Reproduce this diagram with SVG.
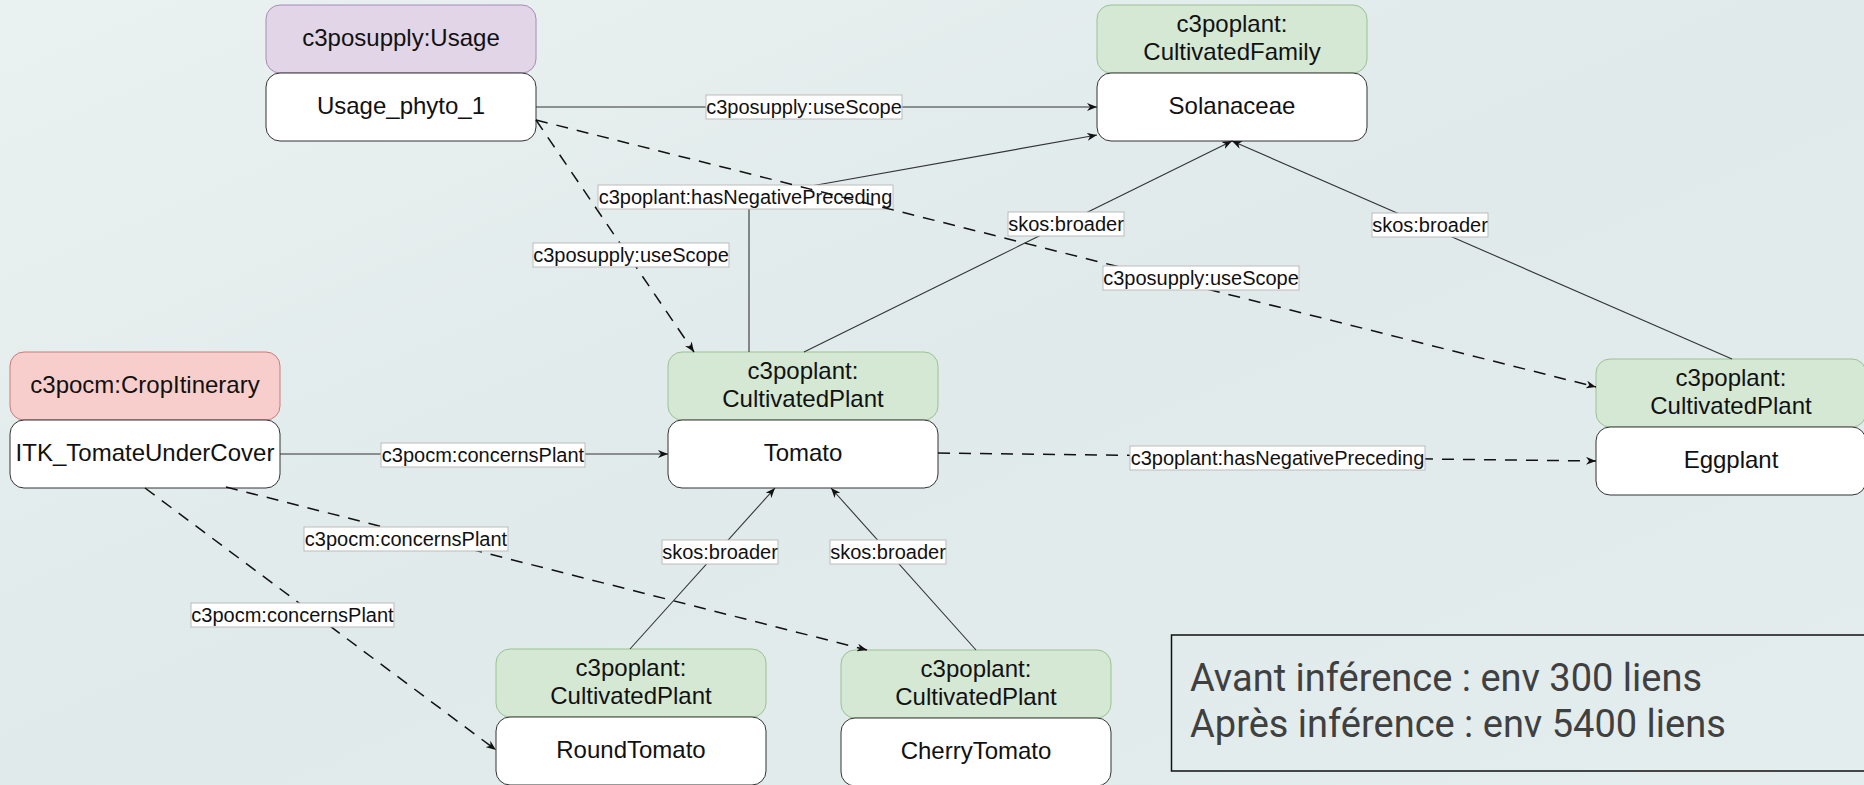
<svg xmlns="http://www.w3.org/2000/svg" width="1864" height="785" viewBox="0 0 1864 785">
<defs>
<linearGradient id="bg" x1="0" y1="0" x2="1" y2="1">
<stop offset="0" stop-color="#eaf1f1"/>
<stop offset="0.5" stop-color="#e0eaea"/>
<stop offset="1" stop-color="#e4eded"/>
</linearGradient>
<marker id="arr" viewBox="0 0 10 8" refX="10" refY="4" markerWidth="10" markerHeight="8" markerUnits="userSpaceOnUse" orient="auto">
<path d="M0,0 L10,4 L0,8 L3,4 z" fill="#111"/>
</marker>
</defs>
<style>
.hp{fill:#e1d5e7;stroke:#a88bb5;stroke-width:1}
.hg{fill:#d5e8d4;stroke:#9cc094;stroke-width:1}
.hr{fill:#f8cecc;stroke:#c77c7a;stroke-width:1}
.bd{fill:#ffffff;stroke:#333333;stroke-width:1}
.nt{font-family:"Liberation Sans",Arial,sans-serif;font-size:24px;fill:#111;text-anchor:middle}
.e{fill:none;stroke:#333;stroke-width:1.1;marker-end:url(#arr)}
.ed{fill:none;stroke:#111;stroke-width:1.5;stroke-dasharray:12 9;marker-end:url(#arr)}
.lb{fill:#ffffff;stroke:#bbbbbb;stroke-width:1}
.lt{font-family:"Liberation Sans",Arial,sans-serif;font-size:20px;fill:#111;text-anchor:middle}
.info{font-family:Roboto,"Open Sans",sans-serif;font-size:38px;fill:#404040}
</style>
<rect x="0" y="0" width="1864" height="785" fill="url(#bg)"/>

<g id="node-usage">
<rect class="hp" x="266" y="5" width="270" height="68" rx="14"/>
<rect class="bd" x="266" y="73" width="270" height="68" rx="14"/>
<text class="nt" x="401" y="46">c3posupply:Usage</text>
<text class="nt" x="401" y="114">Usage_phyto_1</text>
</g>
<g id="node-solanaceae">
<rect class="hg" x="1097" y="5" width="270" height="68" rx="14"/>
<rect class="bd" x="1097" y="73" width="270" height="68" rx="14"/>
<text class="nt" x="1232" y="32">c3poplant:</text>
<text class="nt" x="1232" y="60">CultivatedFamily</text>
<text class="nt" x="1232" y="114">Solanaceae</text>
</g>
<g id="node-itk">
<rect class="hr" x="10" y="352" width="270" height="68" rx="14"/>
<rect class="bd" x="10" y="420" width="270" height="68" rx="14"/>
<text class="nt" x="145" y="393">c3pocm:CropItinerary</text>
<text class="nt" x="145" y="461">ITK_TomateUnderCover</text>
</g>
<g id="node-tomato">
<rect class="hg" x="668" y="352" width="270" height="68" rx="14"/>
<rect class="bd" x="668" y="420" width="270" height="68" rx="14"/>
<text class="nt" x="803" y="379">c3poplant:</text>
<text class="nt" x="803" y="407">CultivatedPlant</text>
<text class="nt" x="803" y="461">Tomato</text>
</g>
<g id="node-eggplant">
<rect class="hg" x="1596" y="359" width="270" height="68" rx="14"/>
<rect class="bd" x="1596" y="427" width="270" height="68" rx="14"/>
<text class="nt" x="1731" y="386">c3poplant:</text>
<text class="nt" x="1731" y="414">CultivatedPlant</text>
<text class="nt" x="1731" y="468">Eggplant</text>
</g>
<g id="node-roundtomato">
<rect class="hg" x="496" y="649" width="270" height="68" rx="14"/>
<rect class="bd" x="496" y="717" width="270" height="68" rx="14"/>
<text class="nt" x="631" y="676">c3poplant:</text>
<text class="nt" x="631" y="704">CultivatedPlant</text>
<text class="nt" x="631" y="758">RoundTomato</text>
</g>
<g id="node-cherrytomato">
<rect class="hg" x="841" y="650" width="270" height="68" rx="14"/>
<rect class="bd" x="841" y="718" width="270" height="68" rx="14"/>
<text class="nt" x="976" y="677">c3poplant:</text>
<text class="nt" x="976" y="705">CultivatedPlant</text>
<text class="nt" x="976" y="759">CherryTomato</text>
</g>

<g id="connectors">
<g id="e-usage-solanaceae">
<path class="e" d="M536,107 L1097,107"/>
<rect class="lb" x="706" y="95" width="196" height="24"/>
<text class="lt" x="804" y="114">c3posupply:useScope</text>
</g>
<g id="e-usage-tomato">
<path class="ed" d="M536,120 L694,352"/>
<rect class="lb" x="533" y="243" width="196" height="24"/>
<text class="lt" x="631" y="262">c3posupply:useScope</text>
</g>
<g id="e-tomato-solanaceae-neg">
<path class="e" d="M749,352 L749,197 L1097,135"/>
<rect class="lb" x="598" y="185" width="295" height="24"/>
<text class="lt" x="745.5" y="204">c3poplant:hasNegativePreceding</text>
</g>
<g id="e-usage-eggplant">
<path class="ed" d="M536,120 L1596,387"/>
<rect class="lb" x="1103" y="266" width="196" height="24"/>
<text class="lt" x="1201" y="285">c3posupply:useScope</text>
</g>
<g id="e-tomato-solanaceae-broader">
<path class="e" d="M804,352 L1232,141"/>
<rect class="lb" x="1008" y="212" width="116" height="24"/>
<text class="lt" x="1066" y="231">skos:broader</text>
</g>
<g id="e-eggplant-solanaceae">
<path class="e" d="M1732,359 L1232,141"/>
<rect class="lb" x="1372" y="213" width="116" height="24"/>
<text class="lt" x="1430" y="232">skos:broader</text>
</g>
<g id="e-itk-tomato">
<path class="e" d="M280,454 L668,454"/>
<rect class="lb" x="381" y="443" width="204" height="24"/>
<text class="lt" x="483" y="462">c3pocm:concernsPlant</text>
</g>
<g id="e-tomato-eggplant">
<path class="ed" d="M938,453 L1596,461"/>
<rect class="lb" x="1130" y="446" width="295" height="24"/>
<text class="lt" x="1277.5" y="465">c3poplant:hasNegativePreceding</text>
</g>
<g id="e-itk-cherry">
<path class="ed" d="M226,487 L867,650"/>
<rect class="lb" x="304" y="527" width="204" height="24"/>
<text class="lt" x="406" y="546">c3pocm:concernsPlant</text>
</g>
<g id="e-itk-round">
<path class="ed" d="M145,488 L496,750"/>
<rect class="lb" x="191" y="603" width="203" height="24"/>
<text class="lt" x="292.5" y="622">c3pocm:concernsPlant</text>
</g>
<g id="e-round-tomato">
<path class="e" d="M630,649 L775,488"/>
<rect class="lb" x="662" y="540" width="116" height="24"/>
<text class="lt" x="720" y="559">skos:broader</text>
</g>
<g id="e-cherry-tomato">
<path class="e" d="M976,650 L831,488"/>
<rect class="lb" x="830" y="540" width="116" height="24"/>
<text class="lt" x="888" y="559">skos:broader</text>
</g>
</g>

<g id="info">
<rect x="1171.5" y="635" width="720" height="136" fill="none" stroke="#111" stroke-width="1.5"/>
<text class="info" x="1190" y="691">Avant inférence : env 300 liens</text>
<text class="info" x="1190" y="737">Après inférence : env 5400 liens</text>
</g>
</svg>
